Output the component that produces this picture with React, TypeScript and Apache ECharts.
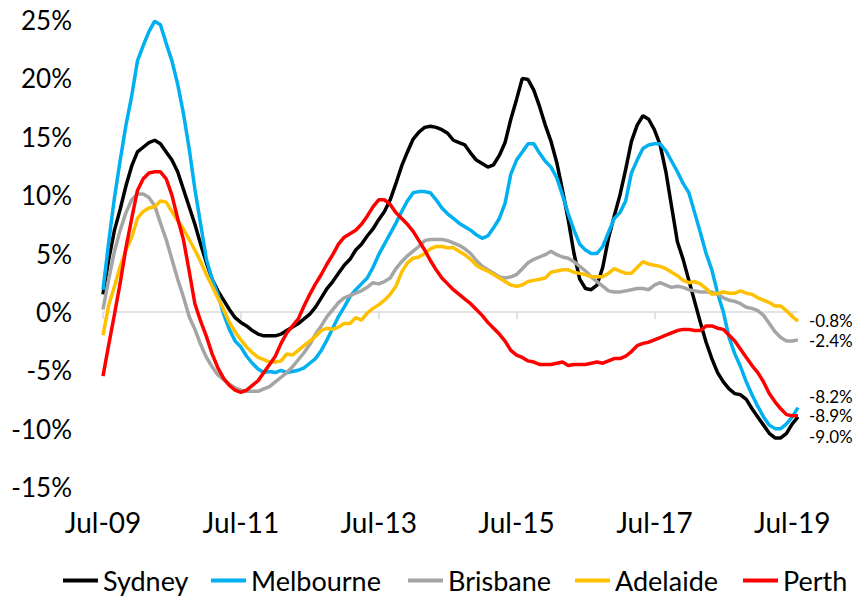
import React, { useEffect, useRef } from 'react';
import * as echarts from 'echarts';

const MONTH_NAMES = ['Jan', 'Feb', 'Mar', 'Apr', 'May', 'Jun', 'Jul', 'Aug', 'Sep', 'Oct', 'Nov', 'Dec'];
const FIRST_YEAR = 9; // 2009
const FIRST_MONTH = 6; // Jul
const N_MONTHS = 122; // Jul-09 .. Aug-19

const categories: string[] = Array.from({ length: N_MONTHS }, (_, i) => {
  const m = (FIRST_MONTH + i) % 12;
  const y = FIRST_YEAR + Math.floor((FIRST_MONTH + i) / 12);
  return `${MONTH_NAMES[m]}-${String(y).padStart(2, '0')}`;
});

const sydney = [
  1.5, 4.5, 7.0, 8.8, 10.8, 12.5, 13.7, 14.1, 14.5, 14.7,
  14.4, 13.7, 13.0, 12.0, 10.5, 9.0, 7.5, 5.8, 4.2, 2.8,
  1.8, 1.0, 0.2, -0.5, -0.9, -1.2, -1.6, -1.9, -2.05, -2.05,
  -2.05, -1.9, -1.6, -1.3, -1.0, -0.6, -0.2, 0.4, 1.2, 2.0,
  2.6, 3.3, 4.0, 4.5, 5.3, 5.8, 6.5, 7.1, 7.9, 8.6,
  9.6, 11.0, 12.5, 13.7, 14.8, 15.4, 15.8, 15.9, 15.8, 15.6,
  15.3, 14.7, 14.5, 14.3, 13.6, 13.0, 12.7, 12.4, 12.6, 13.4,
  14.5, 16.5, 18.2, 20.0, 19.9, 19.0, 17.6, 16.0, 14.6, 12.8,
  10.4, 7.9, 5.0, 2.8, 2.0, 1.9, 2.3, 3.8, 6.3, 8.2,
  10.0, 12.2, 14.6, 16.0, 16.8, 16.5, 15.6, 14.3, 12.0, 9.0,
  6.0, 4.5, 2.7, 0.9, -0.9, -2.6, -4.0, -5.2, -6.0, -6.6,
  -7.0, -7.1, -7.5, -8.3, -9.0, -9.7, -10.4, -10.8, -10.8, -10.4, -9.6, -9.0,
];

const melbourne = [
  1.9, 6.0, 9.8, 13.0, 16.0, 18.5, 21.5, 22.8, 24.0, 24.9,
  24.6, 23.0, 21.5, 19.5, 17.0, 14.0, 10.5, 7.5, 4.5, 2.8,
  1.5, -0.2, -1.5, -2.5, -3.0, -3.8, -4.4, -4.9, -5.2, -5.1,
  -5.2, -5.0, -5.2, -5.1, -5.0, -4.8, -4.4, -4.0, -3.3, -2.4,
  -1.4, -0.4, 0.4, 1.3, 1.9, 2.4, 2.9, 3.8, 4.9, 5.8,
  6.7, 7.6, 8.6, 9.5, 10.2, 10.3, 10.3, 10.2, 9.6, 8.9,
  8.4, 8.0, 7.6, 7.3, 7.0, 6.6, 6.3, 6.5, 7.2, 8.0,
  9.3, 11.8, 13.0, 13.7, 14.4, 14.4, 13.6, 12.9, 12.4, 11.5,
  10.0, 8.4, 7.0, 5.8, 5.3, 5.0, 5.0, 5.6, 6.8, 8.0,
  8.5, 9.5, 11.9, 13.0, 14.0, 14.3, 14.4, 14.4, 13.8, 12.9,
  12.0, 11.0, 10.2, 8.5, 6.8, 5.0, 3.6, 1.6, 0.0, -2.2,
  -3.6, -4.7, -6.0, -7.1, -8.1, -9.0, -9.7, -10.0, -10.0, -9.6, -9.0, -8.2,
];

const brisbane = [
  0.2, 2.8, 5.2, 7.0, 8.5, 9.6, 10.1, 10.1, 9.8, 9.1,
  7.6, 6.2, 4.5, 2.8, 1.3, -0.4, -1.5, -2.8, -3.9, -4.7,
  -5.4, -5.8, -6.2, -6.5, -6.7, -6.8, -6.8, -6.8, -6.6, -6.4,
  -6.0, -5.6, -5.2, -4.7, -4.1, -3.5, -2.8, -1.9, -1.2, -0.4,
  0.2, 0.8, 1.2, 1.4, 1.6, 1.8, 2.1, 2.5, 2.4, 2.6,
  2.9, 3.7, 4.3, 4.8, 5.2, 5.6, 6.1, 6.2, 6.2, 6.2,
  6.1, 5.9, 5.7, 5.4, 5.0, 4.4, 3.9, 3.6, 3.3, 3.0,
  2.9, 3.0, 3.2, 3.7, 4.2, 4.5, 4.7, 4.9, 5.2, 4.9,
  4.7, 4.6, 4.3, 3.9, 3.5, 3.0, 2.6, 2.2, 1.8, 1.7,
  1.7, 1.8, 1.9, 2.0, 2.0, 1.9, 2.3, 2.5, 2.3, 2.1,
  2.2, 2.1, 1.9, 1.8, 1.7, 1.7, 1.7, 1.5, 1.2, 1.0,
  0.9, 0.7, 0.4, 0.3, 0.1, -0.3, -1.0, -1.7, -2.2, -2.5, -2.5, -2.4,
];

const adelaide = [
  -2.0, 0.6, 2.2, 3.9, 5.3, 6.4, 8.0, 8.6, 8.9, 9.0,
  9.5, 9.4, 8.6, 7.8, 7.1, 6.2, 5.3, 4.3, 3.2, 2.2,
  1.2, 0.2, -0.9, -1.7, -2.4, -3.0, -3.5, -3.9, -4.1, -4.3,
  -4.3, -4.2, -3.6, -3.7, -3.3, -2.9, -2.5, -2.1, -1.6, -1.4,
  -1.5, -1.3, -1.0, -1.0, -0.5, -0.7, -0.1, 0.3, 0.6, 1.0,
  1.5, 2.2, 3.4, 4.2, 4.6, 4.7, 5.0, 5.4, 5.6, 5.6,
  5.5, 5.5, 5.2, 4.9, 4.5, 4.0, 3.7, 3.5, 3.2, 2.9,
  2.6, 2.3, 2.2, 2.3, 2.6, 2.7, 2.8, 2.9, 3.4, 3.5,
  3.6, 3.6, 3.4, 3.3, 3.2, 3.0, 3.0, 3.0, 3.3, 3.7,
  3.5, 3.3, 3.3, 3.8, 4.3, 4.1, 4.0, 3.9, 3.7, 3.4,
  3.1, 2.7, 2.5, 2.6, 2.4, 2.0, 1.5, 1.6, 1.7, 1.6,
  1.6, 1.8, 1.6, 1.5, 1.2, 1.0, 0.8, 0.5, 0.5, 0.1, -0.4, -0.8,
];

const perth = [
  -5.5, -2.8, -0.2, 2.5, 5.5, 8.0, 10.4, 11.4, 11.9, 12.0,
  12.0, 11.4, 10.0, 8.0, 6.2, 3.5, 0.7, -0.8, -2.1, -3.6,
  -4.8, -5.7, -6.3, -6.7, -6.9, -6.7, -6.3, -5.9, -5.2, -4.5,
  -3.8, -2.7, -1.8, -1.2, -0.6, 0.5, 1.5, 2.4, 3.2, 4.1,
  4.9, 5.8, 6.4, 6.7, 7.0, 7.5, 8.2, 9.0, 9.6, 9.6,
  9.2, 8.5, 8.0, 7.5, 6.9, 6.1, 5.3, 4.4, 3.6, 2.9,
  2.4, 1.9, 1.5, 1.1, 0.7, 0.2, -0.3, -0.9, -1.4, -1.9,
  -2.5, -3.3, -3.7, -3.9, -4.2, -4.3, -4.5, -4.5, -4.5, -4.4,
  -4.3, -4.6, -4.5, -4.5, -4.5, -4.4, -4.3, -4.4, -4.2, -4.0,
  -4.0, -3.8, -3.4, -2.9, -2.7, -2.6, -2.4, -2.2, -2.0, -1.8,
  -1.6, -1.5, -1.5, -1.6, -1.6, -1.2, -1.2, -1.4, -1.5, -2.0,
  -2.5, -3.2, -3.9, -4.6, -5.2, -6.0, -7.0, -7.7, -8.3, -8.8, -8.9, -8.9,
];

const Y_TICKS_MIN = -15;
const Y_TICKS_MAX = 25;
const Y_TICK_STEP = 5;

const FONT = 'Lato, "Liberation Sans", sans-serif';

const SERIES = [
  { name: 'Sydney', data: sydney, color: '#000000', labelDy: 20, legendLeft: 58 },
  { name: 'Melbourne', data: melbourne, color: '#00B0F0', labelDy: -11, legendLeft: 206 },
  { name: 'Brisbane', data: brisbane, color: '#A5A5A5', labelDy: 1, legendLeft: 403 },
  { name: 'Adelaide', data: adelaide, color: '#FFC000', labelDy: -1, legendLeft: 570 },
  { name: 'Perth', data: perth, color: '#FF0000', labelDy: 0, legendLeft: 738 },
];

export default function App() {
  const ref = useRef<HTMLDivElement>(null);

  useEffect(() => {
    document.body.style.margin = '0';
    if (!ref.current) return;
    const chart = echarts.init(ref.current, undefined, { renderer: 'svg' });
    const labelEvery = (idx: number) => idx % 24 === 0;
    chart.setOption({
      animation: false,
      backgroundColor: '#ffffff',
      textStyle: { fontFamily: FONT },
      grid: { left: 103, right: 60, top: 20, bottom: 109, containLabel: false },
      legend: SERIES.map((s) => ({
        data: [s.name],
        left: s.legendLeft,
        top: 562,
        icon: 'rect',
        itemWidth: 35,
        itemHeight: 4,
        selectedMode: false,
        textStyle: { fontFamily: FONT, fontSize: 27, color: '#000000' },
      })),
      xAxis: [
        {
          type: 'category',
          data: categories,
          boundaryGap: false,
          position: 'bottom',
          axisLine: { show: false, onZero: false },
          axisTick: { show: false },
          axisLabel: {
            interval: labelEvery,
            fontFamily: FONT,
            fontSize: 28,
            color: '#000000',
            margin: 21,
          },
          splitLine: { show: false },
        },
        {
          type: 'category',
          data: categories,
          boundaryGap: false,
          position: 'bottom',
          axisLine: { show: true, onZero: true, lineStyle: { color: '#D9D9D9', width: 1.5 } },
          axisTick: { show: true, interval: labelEvery, length: 7, lineStyle: { color: '#D9D9D9', width: 1.5 } },
          axisLabel: { show: false },
          splitLine: { show: false },
        },
      ],
      yAxis: {
        type: 'value',
        min: Y_TICKS_MIN,
        max: Y_TICKS_MAX,
        interval: Y_TICK_STEP,
        axisLine: { show: false },
        axisTick: { show: false },
        splitLine: { show: false },
        axisLabel: {
          formatter: (v: number) => `${v}%`,
          fontFamily: FONT,
          fontSize: 26,
          color: '#000000',
          margin: 31,
        },
      },
      series: SERIES.map((s) => ({
        name: s.name,
        type: 'line',
        xAxisIndex: 0,
        data: s.data,
        symbol: 'none',
        showSymbol: false,
        smooth: false,
        color: s.color,
        lineStyle: { color: s.color, width: 3.5 },
        itemStyle: { color: s.color },
        emphasis: { disabled: true },
        endLabel: {
          show: true,
          formatter: (p: any) => `${Number(p.value).toFixed(1)}%`,
          fontFamily: FONT,
          fontSize: 17,
          lineHeight: 17,
          color: '#000000',
          distance: 11,
          offset: [0, s.labelDy],
        },
      })),
    });
    return () => chart.dispose();
  }, []);

  return <div ref={ref} style={{ width: 858, height: 596 }} />;
}
